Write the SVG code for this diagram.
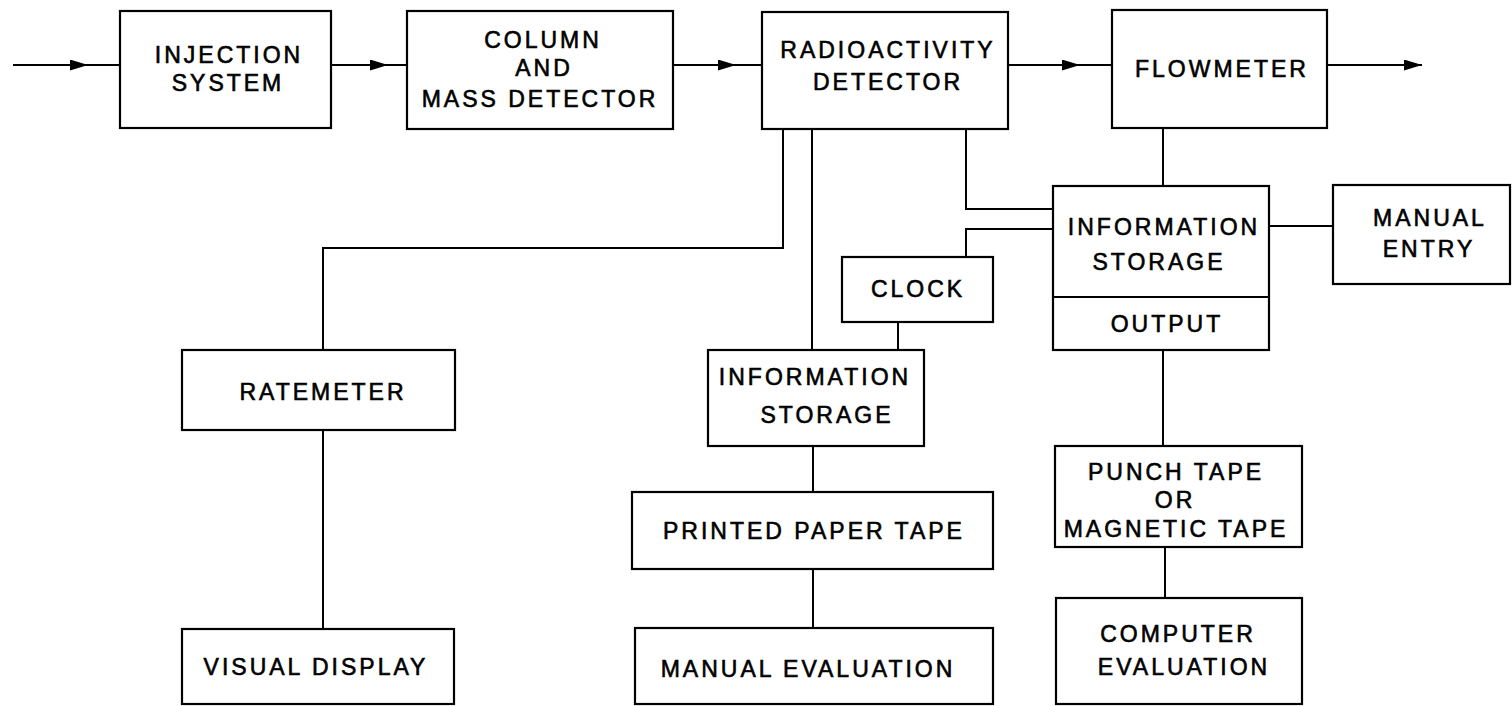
<svg xmlns="http://www.w3.org/2000/svg" width="1512" height="706" viewBox="0 0 1512 706">
<style>
.box{fill:#fff;stroke:#000;stroke-width:2.2}
.ln{fill:none;stroke:#000;stroke-width:2}
text{font-family:"Liberation Sans",Arial,sans-serif;font-size:23px;letter-spacing:3px;text-anchor:middle;fill:#000;stroke:#000;stroke-width:0.6}
</style>
<defs>
<marker id="ah" markerUnits="userSpaceOnUse" markerWidth="18" markerHeight="11" refX="18" refY="5.5" orient="auto">
<path d="M0,0 L18,5.5 L0,11 z" fill="#000"/>
</marker>
</defs>
<rect width="1512" height="706" fill="#fff"/>
<g id="connectors">
<polyline class="ln" points="13,65 88,65 120,65" marker-mid="url(#ah)"/>
<polyline class="ln" points="331,65 388,65 407,65" marker-mid="url(#ah)"/>
<polyline class="ln" points="673,65 736,65 762,65" marker-mid="url(#ah)"/>
<polyline class="ln" points="1008,65 1080,65 1112,65" marker-mid="url(#ah)"/>
<line class="ln" x1="1327" y1="65" x2="1422" y2="65" marker-end="url(#ah)"/>
<line class="ln" x1="1163" y1="128" x2="1163" y2="186"/>
<polyline class="ln" points="966,129 966,209 1053,209"/>
<polyline class="ln" points="1053,229 966,229 966,257"/>
<line class="ln" x1="1269" y1="226" x2="1333" y2="226"/>
<line class="ln" x1="898" y1="322" x2="898" y2="350"/>
<line class="ln" x1="812" y1="129" x2="812" y2="350"/>
<polyline class="ln" points="783,129 783,248 323,248 323,350"/>
<line class="ln" x1="323" y1="430" x2="323" y2="629"/>
<line class="ln" x1="813" y1="446" x2="813" y2="492"/>
<line class="ln" x1="813" y1="569" x2="813" y2="628"/>
<line class="ln" x1="1163" y1="350" x2="1163" y2="446"/>
<line class="ln" x1="1165" y1="547" x2="1165" y2="598"/>
</g>
<g id="injection">
<rect class="box" x="120" y="11" width="211" height="117"/>
<text x="229" y="63">INJECTION</text>
<text x="228" y="91">SYSTEM</text>
</g>
<g id="column">
<rect class="box" x="407" y="11" width="266" height="118"/>
<text x="543" y="48">COLUMN</text>
<text x="544" y="76">AND</text>
<text x="540" y="107">MASS DETECTOR</text>
</g>
<g id="radioactivity">
<rect class="box" x="762" y="12" width="246" height="117"/>
<text x="888" y="58">RADIOACTIVITY</text>
<text x="888" y="90">DETECTOR</text>
</g>
<g id="flowmeter">
<rect class="box" x="1112" y="10" width="215" height="118"/>
<text x="1222" y="77">FLOWMETER</text>
</g>
<g id="info-storage-main">
<rect class="box" x="1053" y="186" width="216" height="164"/>
<line class="ln" x1="1053" y1="297" x2="1269" y2="297"/>
<text x="1164" y="235">INFORMATION</text>
<text x="1159" y="270">STORAGE</text>
<text x="1167" y="332">OUTPUT</text>
</g>
<g id="manual-entry">
<rect class="box" x="1333" y="185" width="177" height="99"/>
<text x="1430" y="226">MANUAL</text>
<text x="1429" y="257">ENTRY</text>
</g>
<g id="clock">
<rect class="box" x="842" y="257" width="151" height="65"/>
<text x="918" y="297">CLOCK</text>
</g>
<g id="info-storage-left">
<rect class="box" x="708" y="350" width="216" height="96"/>
<text x="815" y="385">INFORMATION</text>
<text x="827" y="423">STORAGE</text>
</g>
<g id="ratemeter">
<rect class="box" x="182" y="350" width="273" height="80"/>
<text x="323" y="400">RATEMETER</text>
</g>
<g id="visual-display">
<rect class="box" x="182" y="629" width="272" height="75"/>
<text x="316" y="675">VISUAL DISPLAY</text>
</g>
<g id="printed-paper-tape">
<rect class="box" x="632" y="492" width="361" height="77"/>
<text x="814" y="539">PRINTED PAPER TAPE</text>
</g>
<g id="manual-evaluation">
<rect class="box" x="635" y="628" width="358" height="76"/>
<text x="808" y="677">MANUAL EVALUATION</text>
</g>
<g id="punch-tape">
<rect class="box" x="1055" y="446" width="247" height="101"/>
<text x="1176" y="480">PUNCH TAPE</text>
<text x="1175" y="508">OR</text>
<text x="1176" y="537">MAGNETIC TAPE</text>
</g>
<g id="computer-evaluation">
<rect class="box" x="1056" y="598" width="246" height="106"/>
<text x="1178" y="642">COMPUTER</text>
<text x="1184" y="675">EVALUATION</text>
</g>
</svg>
